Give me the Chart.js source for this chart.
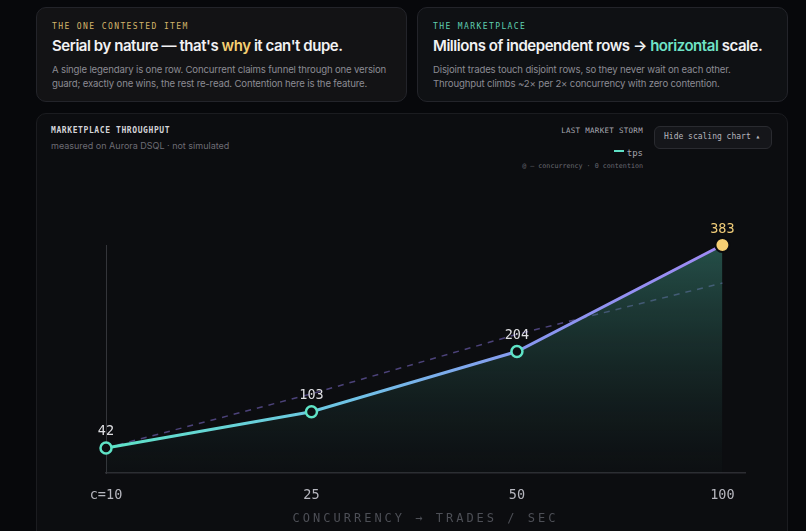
<!DOCTYPE html>
<html>
<head>
<meta charset="utf-8">
<script src="https://cdn.jsdelivr.net/npm/chart.js@4.4.1/dist/chart.umd.min.js"></script>
<style>
  html, body { margin:0; padding:0; }
  body { width:806px; height:531px; overflow:hidden; background:#07080b; position:relative; font-family:"Inter","Noto Sans",sans-serif; }
  .card { position:absolute; top:7px; width:369px; height:93px; border:1px solid #23242a; border-radius:10px; box-sizing:content-box; }
  .c1 { left:36px; background:#131315; }
  .c2 { left:417px; background:#0f1114; }
  .lab { position:absolute; left:15px; top:14px; font:8px "DejaVu Sans Mono",monospace; letter-spacing:1.4px; }
  .ttl { position:absolute; left:15px; top:28px; font-weight:600; font-size:15px; color:#f1f1f3; white-space:nowrap; letter-spacing:-0.45px; }
  .bdy { position:absolute; left:15px; top:55px; font-size:9.6px; line-height:13.5px; color:#8b8b93; white-space:nowrap; letter-spacing:-0.16px; }
  .panel { position:absolute; left:36px; top:113px; width:750px; height:440px; background:#0c0d10; border:1px solid #1b1c20; border-radius:10px; }
  .mono { font-family:"DejaVu Sans Mono",monospace; position:absolute; white-space:nowrap; }
  #chartwrap { position:absolute; left:36px; top:180px; width:752px; height:351px; }
  .xt { position:absolute; top:511px; left:106px; width:639px; text-align:center; font:12px "DejaVu Sans Mono",monospace; letter-spacing:3px; color:#4d4f56; }
</style>
</head>
<body>
<div class="card c1">
  <div class="lab" style="color:#d4b56a">THE ONE CONTESTED ITEM</div>
  <div class="ttl">Serial by nature — that's <span style="color:#f3cf72">why</span> it can't dupe.</div>
  <div class="bdy">A single legendary is one row. Concurrent claims funnel through one version<br>guard; exactly one wins, the rest re-read. Contention here is the feature.</div>
</div>
<div class="card c2">
  <div class="lab" style="color:#5fcfb1">THE MARKETPLACE</div>
  <div class="ttl">Millions of independent rows → <span style="color:#6fe3c6">horizontal</span> scale.</div>
  <div class="bdy">Disjoint trades touch disjoint rows, so they never wait on each other.<br>Throughput climbs ~2× per 2× concurrency with zero contention.</div>
</div>
<div class="panel"></div>
<div class="mono" style="left:51px;top:126px;font-size:8px;font-weight:bold;letter-spacing:0.6px;color:#d4d4d8">MARKETPLACE THROUGHPUT</div>
<div style="position:absolute;left:51px;top:140px;font-size:9px;color:#6c6c74;white-space:nowrap">measured on Aurora DSQL · not simulated</div>
<div class="mono" style="right:163px;top:126px;font-size:7.5px;letter-spacing:0.3px;color:#a9a9b1">LAST MARKET STORM</div>
<div style="position:absolute;left:614px;top:150px;width:10px;height:2px;background:#5fe0c6"></div>
<div class="mono" style="right:163px;top:148px;font-size:9px;color:#a3a3ab">tps</div>
<div class="mono" style="right:163px;top:162px;font-size:6.7px;color:#6a6a72">@ — concurrency · 0 contention</div>
<div style="position:absolute;left:654px;top:126px;width:116px;height:21px;background:#15161a;border:1px solid #2a2b30;border-radius:6px;"></div>
<div class="mono" style="left:664px;top:132px;font-size:8px;color:#b5b5bd">Hide scaling chart ▴</div>
<div id="chartwrap"><canvas id="c"></canvas></div>
<div class="xt">CONCURRENCY → TRADES / SEC</div>
<script>
const categories = ['c=10', '25', '50', '100'];
const tps = [42, 103, 204, 383];
const ideal = [42, 133, 233, 319];

const lineGrad = (ctx) => {
  const ch = ctx.chart, a = ch.chartArea;
  if (!a) return '#5fe0c6';
  const g = ch.ctx.createLinearGradient(a.left, 0, a.left + 611, 0);
  g.addColorStop(0, '#5ee3c7');
  g.addColorStop(0.4, '#6fc3e6');
  g.addColorStop(0.7, '#8896f0');
  g.addColorStop(1, '#9f8af3');
  return g;
};
const fillGrad = (ctx) => {
  const ch = ctx.chart, a = ch.chartArea;
  if (!a) return 'rgba(0,0,0,0)';
  const g = ch.ctx.createLinearGradient(0, a.top, 0, a.bottom);
  g.addColorStop(0, 'rgba(58,135,120,0.55)');
  g.addColorStop(0.5, 'rgba(50,112,100,0.28)');
  g.addColorStop(1, 'rgba(40,80,75,0.04)');
  return g;
};

const labelPlugin = {
  id: 'vals',
  afterDatasetsDraw(chart) {
    const meta = chart.getDatasetMeta(0);
    const c = chart.ctx;
    c.save();
    c.font = '13.5px "DejaVu Sans Mono", monospace';
    c.textAlign = 'center';
    c.textBaseline = 'middle';
    meta.data.forEach((p, i) => {
      c.fillStyle = i === tps.length - 1 ? '#efcb78' : '#dedee2';
      c.fillText(String(tps[i]), p.x, p.y - 16);
    });
    c.restore();
  }
};

new Chart(document.getElementById('c'), {
  type: 'line',
  data: {
    datasets: [
      {
        data: tps.map((v, i) => ({ x: i, y: v })),
        borderColor: lineGrad,
        borderWidth: 3,
        fill: 'origin',
        backgroundColor: fillGrad,
        tension: 0,
        pointRadius: tps.map((v, i) => i === tps.length - 1 ? 7 : 5.5),
        pointBorderWidth: tps.map((v, i) => i === tps.length - 1 ? 2 : 2.5),
        pointBorderColor: tps.map((v, i) => i === tps.length - 1 ? '#0a0b0d' : '#5fe3c6'),
        pointBackgroundColor: tps.map((v, i) => i === tps.length - 1 ? '#f6cf72' : '#0d0f12'),
      },
      {
        data: ideal.map((v, i) => ({ x: i, y: v })),
        borderColor: 'rgba(130,112,210,0.55)',
        borderWidth: 1.5,
        borderDash: [6, 6],
        pointRadius: 0,
        fill: false,
        tension: 0,
      }
    ]
  },
  options: {
    responsive: true,
    maintainAspectRatio: false,
    animation: false,
    clip: false,
    layout: { padding: { left: 70, right: 43, top: 65, bottom: 0 } },
    plugins: { legend: { display: false }, tooltip: { enabled: false } },
    scales: {
      x: {
        type: 'linear',
        min: 0,
        max: 3.11,
        afterBuildTicks: (s) => { s.ticks = categories.map((_, i) => ({ value: i })); },
        afterFit: (s) => { s.height = 58; },
        ticks: {
          autoSkip: false,
          padding: 14,
          color: '#b6b6be',
          font: { family: '"DejaVu Sans Mono", monospace', size: 13.5 },
          callback: (v) => categories[v]
        },
        grid: { display: false, drawTicks: false },
        border: { color: '#2c2d32', width: 1.5 }
      },
      y: {
        min: 0,
        max: Math.max(...tps),
        afterFit: (s) => { s.width = 0; },
        ticks: { display: false },
        grid: { display: false, drawTicks: false },
        border: { color: '#34353a', width: 1 }
      }
    }
  },
  plugins: [labelPlugin]
});
</script>
</body>
</html>
